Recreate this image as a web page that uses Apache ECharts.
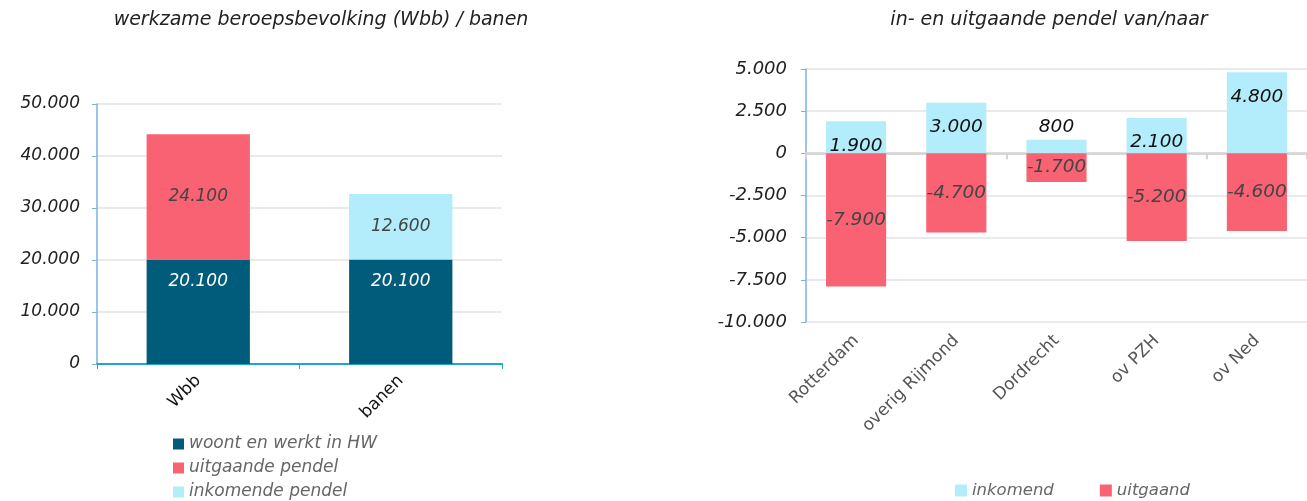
<!DOCTYPE html>
<html lang="nl">
<head>
  <meta charset="UTF-8">
  <title>Wbb / banen en pendel</title>
  <script src="https://cdn.jsdelivr.net/npm/echarts@6/dist/echarts.min.js"></script>
  <style>
    html, body { margin: 0; padding: 0; background: #fff; }
    #chart { width: 1307px; height: 501px; }
  </style>
</head>
<body>
  <div id="chart"></div>

<script>
  // linker grafiek: werkzame beroepsbevolking / banen
  const leftCats = ['Wbb', 'banen'];
  const woontWerkt = [20100, 20100];
  const uitgaandePendel = [24100, null];
  const inkomendePendel = [null, 12600];
  const leftTicks = [0, 10000, 20000, 30000, 40000, 50000];

  // rechter grafiek: pendel van/naar
  const rightCats = ['Rotterdam', 'overig Rijmond', 'Dordrecht', 'ov PZH', 'ov Ned'];
  const inkomend = [1900, 3000, 800, 2100, 4800];
  const uitgaand = [-7900, -4700, -1700, -5200, -4600];
  const rightTicks = [-10000, -7500, -5000, -2500, 0, 2500, 5000];

  const FONT = 'DejaVu Sans, Verdana, sans-serif';
  const DARK = '#005c7a';
  const RED = '#f96272';
  const LIGHT = '#b3ecfb';

  // 20100 -> "20.100"
  function fmt(v) {
    const s = Math.abs(v).toString().replace(/\B(?=(\d{3})+(?!\d))/g, '.');
    return (v < 0 ? '-' : '') + s;
  }

  const valLabel = (color, size) => ({
    show: true,
    fontFamily: FONT,
    fontStyle: 'italic',
    fontSize: size,
    color: color,
    formatter: p => fmt(p.value)
  });

  const yAxisBase = (idx, min, max, interval, size, margin) => ({
    type: 'value',
    gridIndex: idx,
    min: min,
    max: max,
    interval: interval,
    axisLine: { show: true, lineStyle: { color: '#7fb0e3', width: 1.5 } },
    axisTick: { show: true, length: 5, lineStyle: { color: '#7fb0e3' } },
    splitLine: { lineStyle: { color: '#e3e3e3', width: 1.5 } },
    axisLabel: {
      fontFamily: FONT, fontStyle: 'italic', fontSize: size, color: '#222',
      margin: margin, formatter: v => fmt(v)
    }
  });

  const titleStyle = { fontFamily: FONT, fontStyle: 'italic', fontWeight: 'normal', fontSize: 19, color: '#222' };

  const chart = echarts.init(document.getElementById('chart'));

  const option = {
    animation: false,
    title: [
      { text: 'werkzame beroepsbevolking (Wbb) / banen', left: 316, top: 6, textAlign: 'center', textStyle: titleStyle },
      { text: 'in- en uitgaande pendel van/naar', left: 1044, top: 6, textAlign: 'center', textStyle: titleStyle }
    ],
    legend: [
      {
        data: ['woont en werkt in HW', 'uitgaande pendel', 'inkomende pendel'],
        orient: 'vertical',
        left: 173, top: 435,
        padding: 0,
        itemWidth: 11, itemHeight: 11, itemGap: 6,
        icon: 'rect',
        textStyle: { fontFamily: FONT, fontStyle: 'italic', fontSize: 17, lineHeight: 18, color: '#666' }
      },
      {
        data: ['inkomend', 'uitgaand'],
        orient: 'horizontal',
        left: 955, top: 482,
        padding: 0,
        itemWidth: 12, itemHeight: 12, itemGap: 46,
        icon: 'rect',
        textStyle: { fontFamily: FONT, fontStyle: 'italic', fontSize: 16.5, color: '#666' }
      }
    ],
    grid: [
      { left: 97, top: 104, width: 405, height: 260 },
      { left: 806, top: 69, width: 518, height: 253 }
    ],
    xAxis: [
      {
        type: 'category',
        gridIndex: 0,
        data: leftCats,
        axisLine: { lineStyle: { color: '#1fa3d8', width: 2 } },
        axisTick: { show: true, length: 5, lineStyle: { color: '#1fa3d8' } },
        axisLabel: { fontFamily: FONT, fontSize: 17, color: '#111', rotate: 45, margin: 14 }
      },
      {
        // labels onderaan
        type: 'category',
        gridIndex: 1,
        data: rightCats,
        position: 'bottom',
        axisLine: { show: false, onZero: false },
        axisTick: { show: false },
        axisLabel: { fontFamily: FONT, fontSize: 17, color: '#555', rotate: 45, margin: 16 }
      },
      {
        // lijn op nul
        type: 'category',
        gridIndex: 1,
        data: rightCats,
        position: 'top',
        axisLine: { show: true, onZero: true, lineStyle: { color: '#d4d4d4', width: 2.5 } },
        axisTick: { show: true, inside: true, length: 6, lineStyle: { color: '#d4d4d4', width: 2 } },
        axisLabel: { show: false }
      }
    ],
    yAxis: [
      yAxisBase(0, leftTicks[0], leftTicks[leftTicks.length - 1], 10000, 17, 17),
      yAxisBase(1, rightTicks[0], rightTicks[rightTicks.length - 1], 2500, 18, 19)
    ],
    series: [
      {
        name: 'woont en werkt in HW',
        type: 'bar', stack: 'l', xAxisIndex: 0, yAxisIndex: 0,
        barWidth: '51%',
        itemStyle: { color: DARK },
        label: Object.assign(valLabel('#fff', 17), { position: 'insideTop', distance: 14 }),
        data: woontWerkt
      },
      {
        name: 'uitgaande pendel',
        type: 'bar', stack: 'l', xAxisIndex: 0, yAxisIndex: 0,
        itemStyle: { color: RED },
        label: Object.assign(valLabel('#444', 17), { position: 'inside' }),
        data: uitgaandePendel
      },
      {
        name: 'inkomende pendel',
        type: 'bar', stack: 'l', xAxisIndex: 0, yAxisIndex: 0,
        itemStyle: { color: LIGHT },
        label: Object.assign(valLabel('#444', 17), { position: 'inside' }),
        data: inkomendePendel
      },
      {
        name: 'inkomend',
        type: 'bar', stack: 'r', xAxisIndex: 1, yAxisIndex: 1,
        barWidth: '60%',
        itemStyle: { color: LIGHT },
        data: inkomend.map(v => ({
          value: v,
          // kleine staaf: label erboven
          label: Object.assign(valLabel('#111', 18.5),
            v < 1000 ? { position: 'top', distance: 3 } : { position: 'insideTop', distance: 15 })
        }))
      },
      {
        name: 'uitgaand',
        type: 'bar', stack: 'r', xAxisIndex: 1, yAxisIndex: 1,
        itemStyle: { color: RED },
        label: Object.assign(valLabel('#444', 18.5), { position: 'inside' }),
        data: uitgaand
      }
    ]
  };

  chart.setOption(option);
</script>
</body>
</html>
